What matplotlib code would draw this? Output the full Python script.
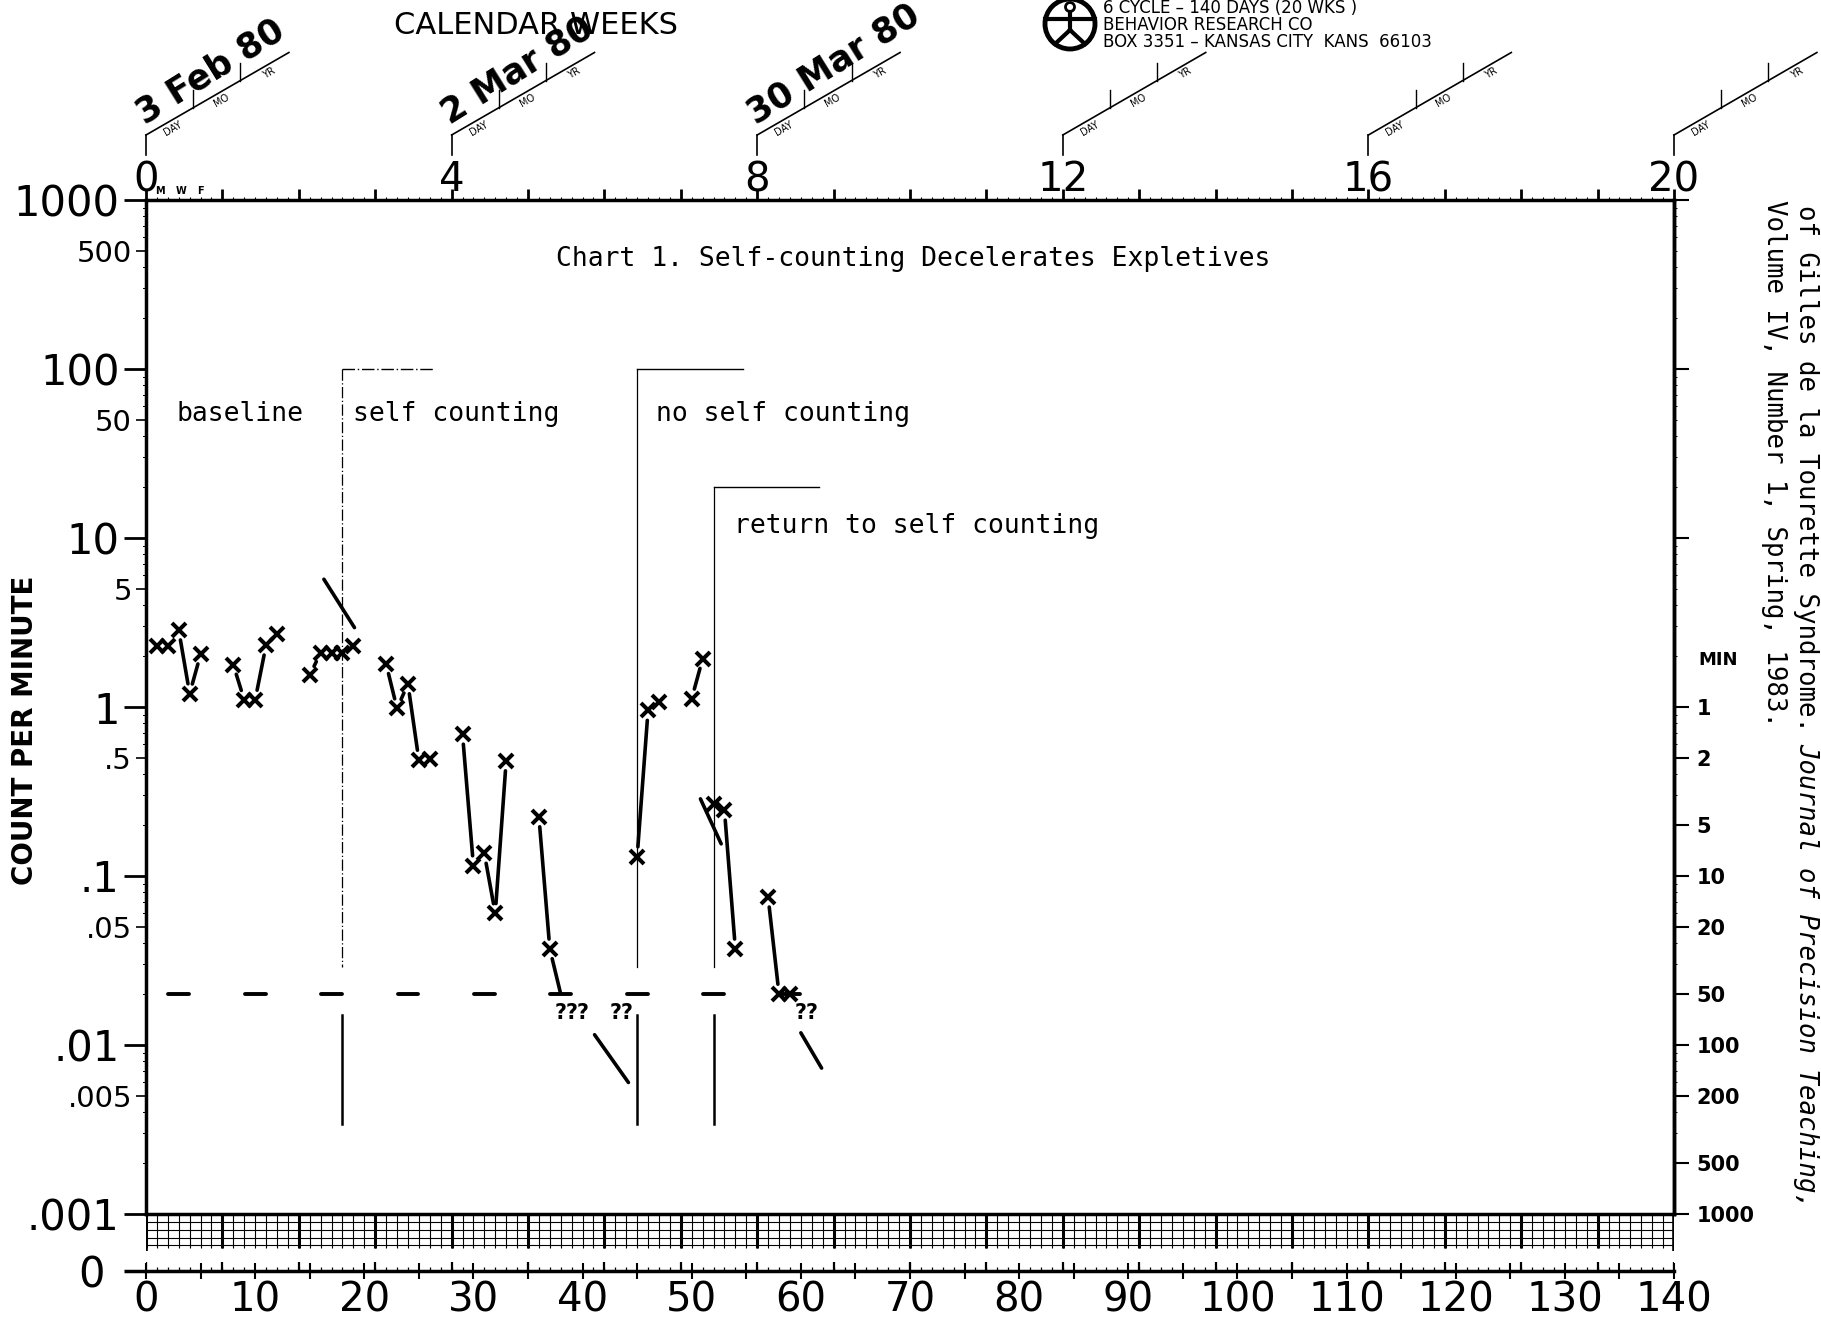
import numpy as np
import matplotlib
matplotlib.use("Agg")
import matplotlib.pyplot as plt
import matplotlib.transforms as mtransforms
from matplotlib.ticker import FixedLocator, FixedFormatter
from matplotlib.patches import Circle

# ---- data ----
days = [1, 2, 3, 4, 5, 8, 9, 10, 11, 12, 15, 16, 17, 18, 19,
        22, 23, 24, 25, 26, 29, 30, 31, 32, 33, 36, 37,
        45, 46, 47, 50, 51, 52, 53, 54, 57, 58, 59]
counts = [2.3, 2.3, 2.85, 1.2, 2.05, 1.78, 1.1, 1.1, 2.32, 2.72, 1.54, 2.1, 2.1, 2.1, 2.3,
          1.8, 0.98, 1.37, 0.485, 0.49, 0.69, 0.115, 0.136, 0.06, 0.48, 0.224, 0.037,
          0.13, 0.955, 1.07, 1.12, 1.93, 0.268, 0.245, 0.037, 0.075, 0.02, 0.02]
zero_days = [38, 39, 40, 43, 44, 60, 61]   # "?" marks below the floor
zero_mark_y = 0.0155
floor_days = [3, 10, 17, 24, 31, 38, 45, 52, 59]
floor_value = 0.02
floor_links = [37]                          # count joined down to next day's floor
phase_days = [18, 45, 52]
phase_tops = [100, 100, 20]
phase_top_ends = [26.5, 54.7, 61.7]
phase_styles = [(0, (9, 2, 1, 2)), "-", "-"]
phase_names = ["baseline", "self counting", "no self counting", "return to self counting"]
phase_label_x = [2.8, 19.0, 46.7, 53.9]
phase_label_y = [54, 54, 54, 11.7]
extra_lines = [((16.3, 5.7), (19.1, 2.95)), ((50.8, 0.286), (52.7, 0.155)),
               ((41.1, 0.0115), (44.2, 0.006)), ((60.0, 0.0118), (61.9, 0.0073))]
date_weeks = [0, 4, 8]
date_texts = ["3 Feb 80", "2 Mar 80", "30 Mar 80"]

left_major = [0.001, 0.01, 0.1, 1, 10, 100, 1000]
left_major_labels = [".001", ".01", ".1", "1", "10", "100", "1000"]
left_minor = [0.005, 0.05, 0.5, 5, 50, 500]
left_minor_labels = [".005", ".05", ".5", "5", "50", "500"]
right_vals = [1, 0.5, 0.2, 0.1, 0.05, 0.02, 0.01, 0.005, 0.002, 0.001]
right_labels = ["1", "2", "5", "10", "20", "50", "100", "200", "500", "1000"]

W, H = 1821, 1320
L, R, T, B, Z = 146, 1674, 200, 1214, 1271
mono = "DejaVu Sans Mono"

fig = plt.figure(figsize=(W / 100, H / 100), dpi=100)
fig.patch.set_facecolor("white")

ax = fig.add_axes([L / W, 1 - B / H, (R - L) / W, (B - T) / H])
ax.set_xlim(0, 140)
ax.set_yscale("log")
ax.set_ylim(0.001, 1000)
for s in ax.spines.values():
    s.set_linewidth(2.5)

# left axis
ax.yaxis.set_major_locator(FixedLocator(left_major))
ax.yaxis.set_major_formatter(FixedFormatter(left_major_labels))
ax.yaxis.set_minor_locator(FixedLocator(left_minor))
ax.yaxis.set_minor_formatter(FixedFormatter(left_minor_labels))
ax.tick_params(axis="y", which="major", length=16, width=2, labelsize=30, pad=3, right=False)
ax.tick_params(axis="y", which="minor", length=7, width=1.2, labelsize=21, pad=3, right=False)
blend_y = mtransforms.blended_transform_factory(ax.transAxes, ax.transData)
for e in range(-3, 3):
    for m in [2, 3, 4, 6, 7, 8, 9]:
        ax.plot([-0.002, 0.0], [m * 10 ** e] * 2, color="k", lw=0.7,
                transform=blend_y, clip_on=False)

# top axis (weeks)
ax.xaxis.set_ticks_position("top")
wk = list(range(0, 141, 7))
ax.xaxis.set_major_locator(FixedLocator(wk))
ax.xaxis.set_major_formatter(FixedFormatter([str(d // 7) if d % 28 == 0 else "" for d in wk]))
ax.xaxis.set_minor_locator(FixedLocator(list(range(0, 141))))
ax.tick_params(axis="x", which="major", length=8, width=2, labelsize=29, pad=-8)
ax.tick_params(axis="x", which="minor", length=2.5, width=0.8)
blend_x = mtransforms.blended_transform_factory(ax.transData, ax.transAxes)
for d, t in zip([1.3, 3.2, 5.0], ["M", "W", "F"]):
    ax.text(d, 1.004, t, transform=blend_x, fontsize=7, fontweight="bold", ha="center", va="bottom")

# right axis (minutes)
ax2 = ax.twinx()
ax2.set_yscale("log")
ax2.set_ylim(0.001, 1000)
ax2.spines["right"].set_linewidth(2.5)
ax2.set_yticks(right_vals + [10, 100, 1000], labels=right_labels + ["", "", ""],
               fontsize=15, fontweight="bold")
ax2.yaxis.set_minor_locator(FixedLocator([m * 10 ** e for e in range(-3, 3) for m in range(2, 10)]))
ax2.yaxis.set_minor_formatter(FixedFormatter([""] * 60))
ax2.tick_params(axis="y", which="major", length=11, width=1.5, pad=5)
ax2.tick_params(axis="y", which="minor", length=2, width=0.7)
ax.text(1.016, 1.9, "MIN", transform=blend_y, fontsize=13, fontweight="bold", va="center")

# record floor
for d in floor_days:
    ax.plot([d - 0.95, d + 0.95], [floor_value] * 2, color="k", lw=2.8, solid_capstyle="round")

# phase lines
for p, top, end, ls in zip(phase_days, phase_tops, phase_top_ends, phase_styles):
    ax.plot([p, p], [top, 0.029], color="k", lw=0.9, ls=ls)
    ax.plot([p, end], [top, top], color="k", lw=1.0, ls=ls)
    ax.plot([p, p], [0.015, 0.0034], color="k", lw=1.8)
for name, x, y in zip(phase_names, phase_label_x, phase_label_y):
    ax.text(x, y, name, family=mono, fontsize=19, va="center", ha="left")
ax.text(0.502, 0.942, "Chart 1. Self-counting Decelerates Expletives", transform=ax.transAxes,
        family=mono, fontsize=19, ha="center", va="center")


def shrunk(p1, p2, g1, g2):
    a = ax.transData.transform(p1)
    b = ax.transData.transform(p2)
    d = b - a
    n = np.hypot(*d)
    if n <= g1 + g2 + 4:
        return None
    u = d / n
    inv = ax.transData.inverted()
    return inv.transform(a + u * g1), inv.transform(b - u * g2)


segs = []
for i in range(len(days) - 1):
    d1, d2 = days[i], days[i + 1]
    if d2 - d1 != 1 or any(d1 < p <= d2 for p in phase_days):
        continue
    segs.append(shrunk((d1, counts[i]), (d2, counts[i + 1]), 10, 10))
for d in floor_links:
    segs.append(shrunk((d, counts[days.index(d)]), (d + 1, floor_value), 10, 2))
for p1, p2 in extra_lines:
    segs.append(shrunk(p1, p2, 0, 0))
for s in segs:
    if s is not None:
        ax.plot([s[0][0], s[1][0]], [s[0][1], s[1][1]], color="k", lw=2.6, solid_capstyle="round")

ax.plot(days, counts, ls="none", marker="x", ms=10, mew=2.9, color="k", zorder=5)
for d in zero_days:
    ax.text(d, zero_mark_y, "?", fontsize=15, fontweight="bold", ha="center", va="center")

# zero strip with grid
ax0 = fig.add_axes([L / W, 1 - Z / H, (R - L) / W, (Z - B) / H])
ax0.set_xlim(0, 140)
ax0.set_ylim(0, 1)
ax0.patch.set_visible(False)
for k in ["top", "left", "right"]:
    ax0.spines[k].set_visible(False)
ax0.spines["bottom"].set_linewidth(2.5)
g0 = 0.45
ax0.vlines(range(0, 141), g0 - 0.05, 1, color="k", lw=0.8)
ax0.vlines(wk, g0 - 0.05, 1, color="k", lw=2.2)
ax0.vlines([0, 140], g0 - 0.1, 1, color="k", lw=2.6)
ax0.hlines(np.linspace(g0, 1, 5)[:-1], 0, 140, color="k", lw=0.8)
ax0.vlines(wk, 0, 0.16, color="k", lw=1.6)
ax0.set_yticks([0], labels=["0"], fontsize=30)
ax0.tick_params(axis="y", length=16, width=2.5, pad=14)
xt = list(range(0, 141, 5))
ax0.xaxis.set_major_locator(FixedLocator(xt))
ax0.xaxis.set_major_formatter(FixedFormatter([str(d) if d % 10 == 0 else "" for d in xt]))
ax0.xaxis.set_minor_locator(FixedLocator(list(range(0, 141))))
ax0.tick_params(axis="x", which="major", direction="inout", length=12, width=1.5, labelsize=29, pad=0.5)
ax0.tick_params(axis="x", which="minor", direction="in", length=3, width=0.9)

# axis titles and notes
fig.text(25 / W, 1 - 730 / H, "COUNT PER MINUTE", rotation=90, fontsize=20, fontweight="bold",
         ha="center", va="center")
fig.text(536 / W, 1 - 25 / H, "CALENDAR WEEKS", fontsize=22, ha="center", va="center")
for i, line in enumerate(["6 CYCLE \u2013 140 DAYS (20 WKS )", "BEHAVIOR RESEARCH CO",
                          "BOX 3351 \u2013 KANSAS CITY  KANS  66103"]):
    fig.text(1103 / W, 1 - (8 + 17 * i) / H, line, fontsize=12, va="center", ha="left")
fig.text(1806 / W, 1 - 205 / H, "of Gilles de la Tourette Syndrome. ", family=mono, fontsize=18.5,
         rotation=270, rotation_mode="anchor", ha="left", va="center")
fig.text(1806 / W, 1 - 743 / H, "Journal of Precision Teaching,", family=mono, style="italic",
         fontsize=18.5, rotation=270, rotation_mode="anchor", ha="left", va="center")
fig.text(1774 / W, 1 - 200 / H, "Volume IV, Number 1, Spring, 1983.", family=mono, fontsize=18.5,
         rotation=270, rotation_mode="anchor", ha="left", va="center")

# overlay in pixel coordinates for date hands and logo
ov = fig.add_axes([0, 0, 1, 1])
ov.set_xlim(0, W)
ov.set_ylim(0, H)
ov.axis("off")
ov.patch.set_visible(False)
ang = np.deg2rad(30)
c, s = np.cos(ang), np.sin(ang)
hl = 165
for w in range(0, 21, 4):
    x0 = ax.transData.transform((7 * w, 1000))[0]
    ya, yb = H - 155, H - 135
    ov.plot([x0, x0], [ya, yb], color="k", lw=1.2)
    ov.plot([x0, x0 + hl * c], [yb, yb + hl * s], color="k", lw=1.2)
    for t in [0.33, 0.66]:
        px, py = x0 + t * hl * c, yb + t * hl * s
        ov.plot([px, px], [py, py + 18], color="k", lw=1.0)
    for t, lab in zip([0.16, 0.5, 0.83], ["DAY", "MO", "YR"]):
        px, py = x0 + t * hl * c + 8 * s, yb + t * hl * s - 8 * c
        ov.text(px, py, lab, fontsize=7, rotation=30, ha="center", va="center")
for w, txt in zip(date_weeks, date_texts):
    x0 = ax.transData.transform((7 * w, 1000))[0]
    yb = H - 135
    ov.text(x0 + 4 * c - 3 * s, yb + 4 * s + 3 * c, txt, fontsize=25, fontweight="bold",
            rotation=32, rotation_mode="anchor", ha="left", va="bottom")

lx, ly = 1070, H - 24
ov.add_patch(Circle((lx, ly), 25, fill=False, lw=3.5, color="k"))
ov.add_patch(Circle((lx, ly + 17), 4.5, fill=False, lw=2, color="k"))
ov.plot([lx - 25, lx + 25], [ly + 5, ly + 5], color="k", lw=3)
ov.plot([lx, lx], [ly + 12, ly - 6], color="k", lw=3)
ov.plot([lx, lx - 15], [ly - 6, ly - 20], color="k", lw=3)
ov.plot([lx, lx + 15], [ly - 6, ly - 20], color="k", lw=3)

fig.savefig("out.png", dpi=100, facecolor="white")
